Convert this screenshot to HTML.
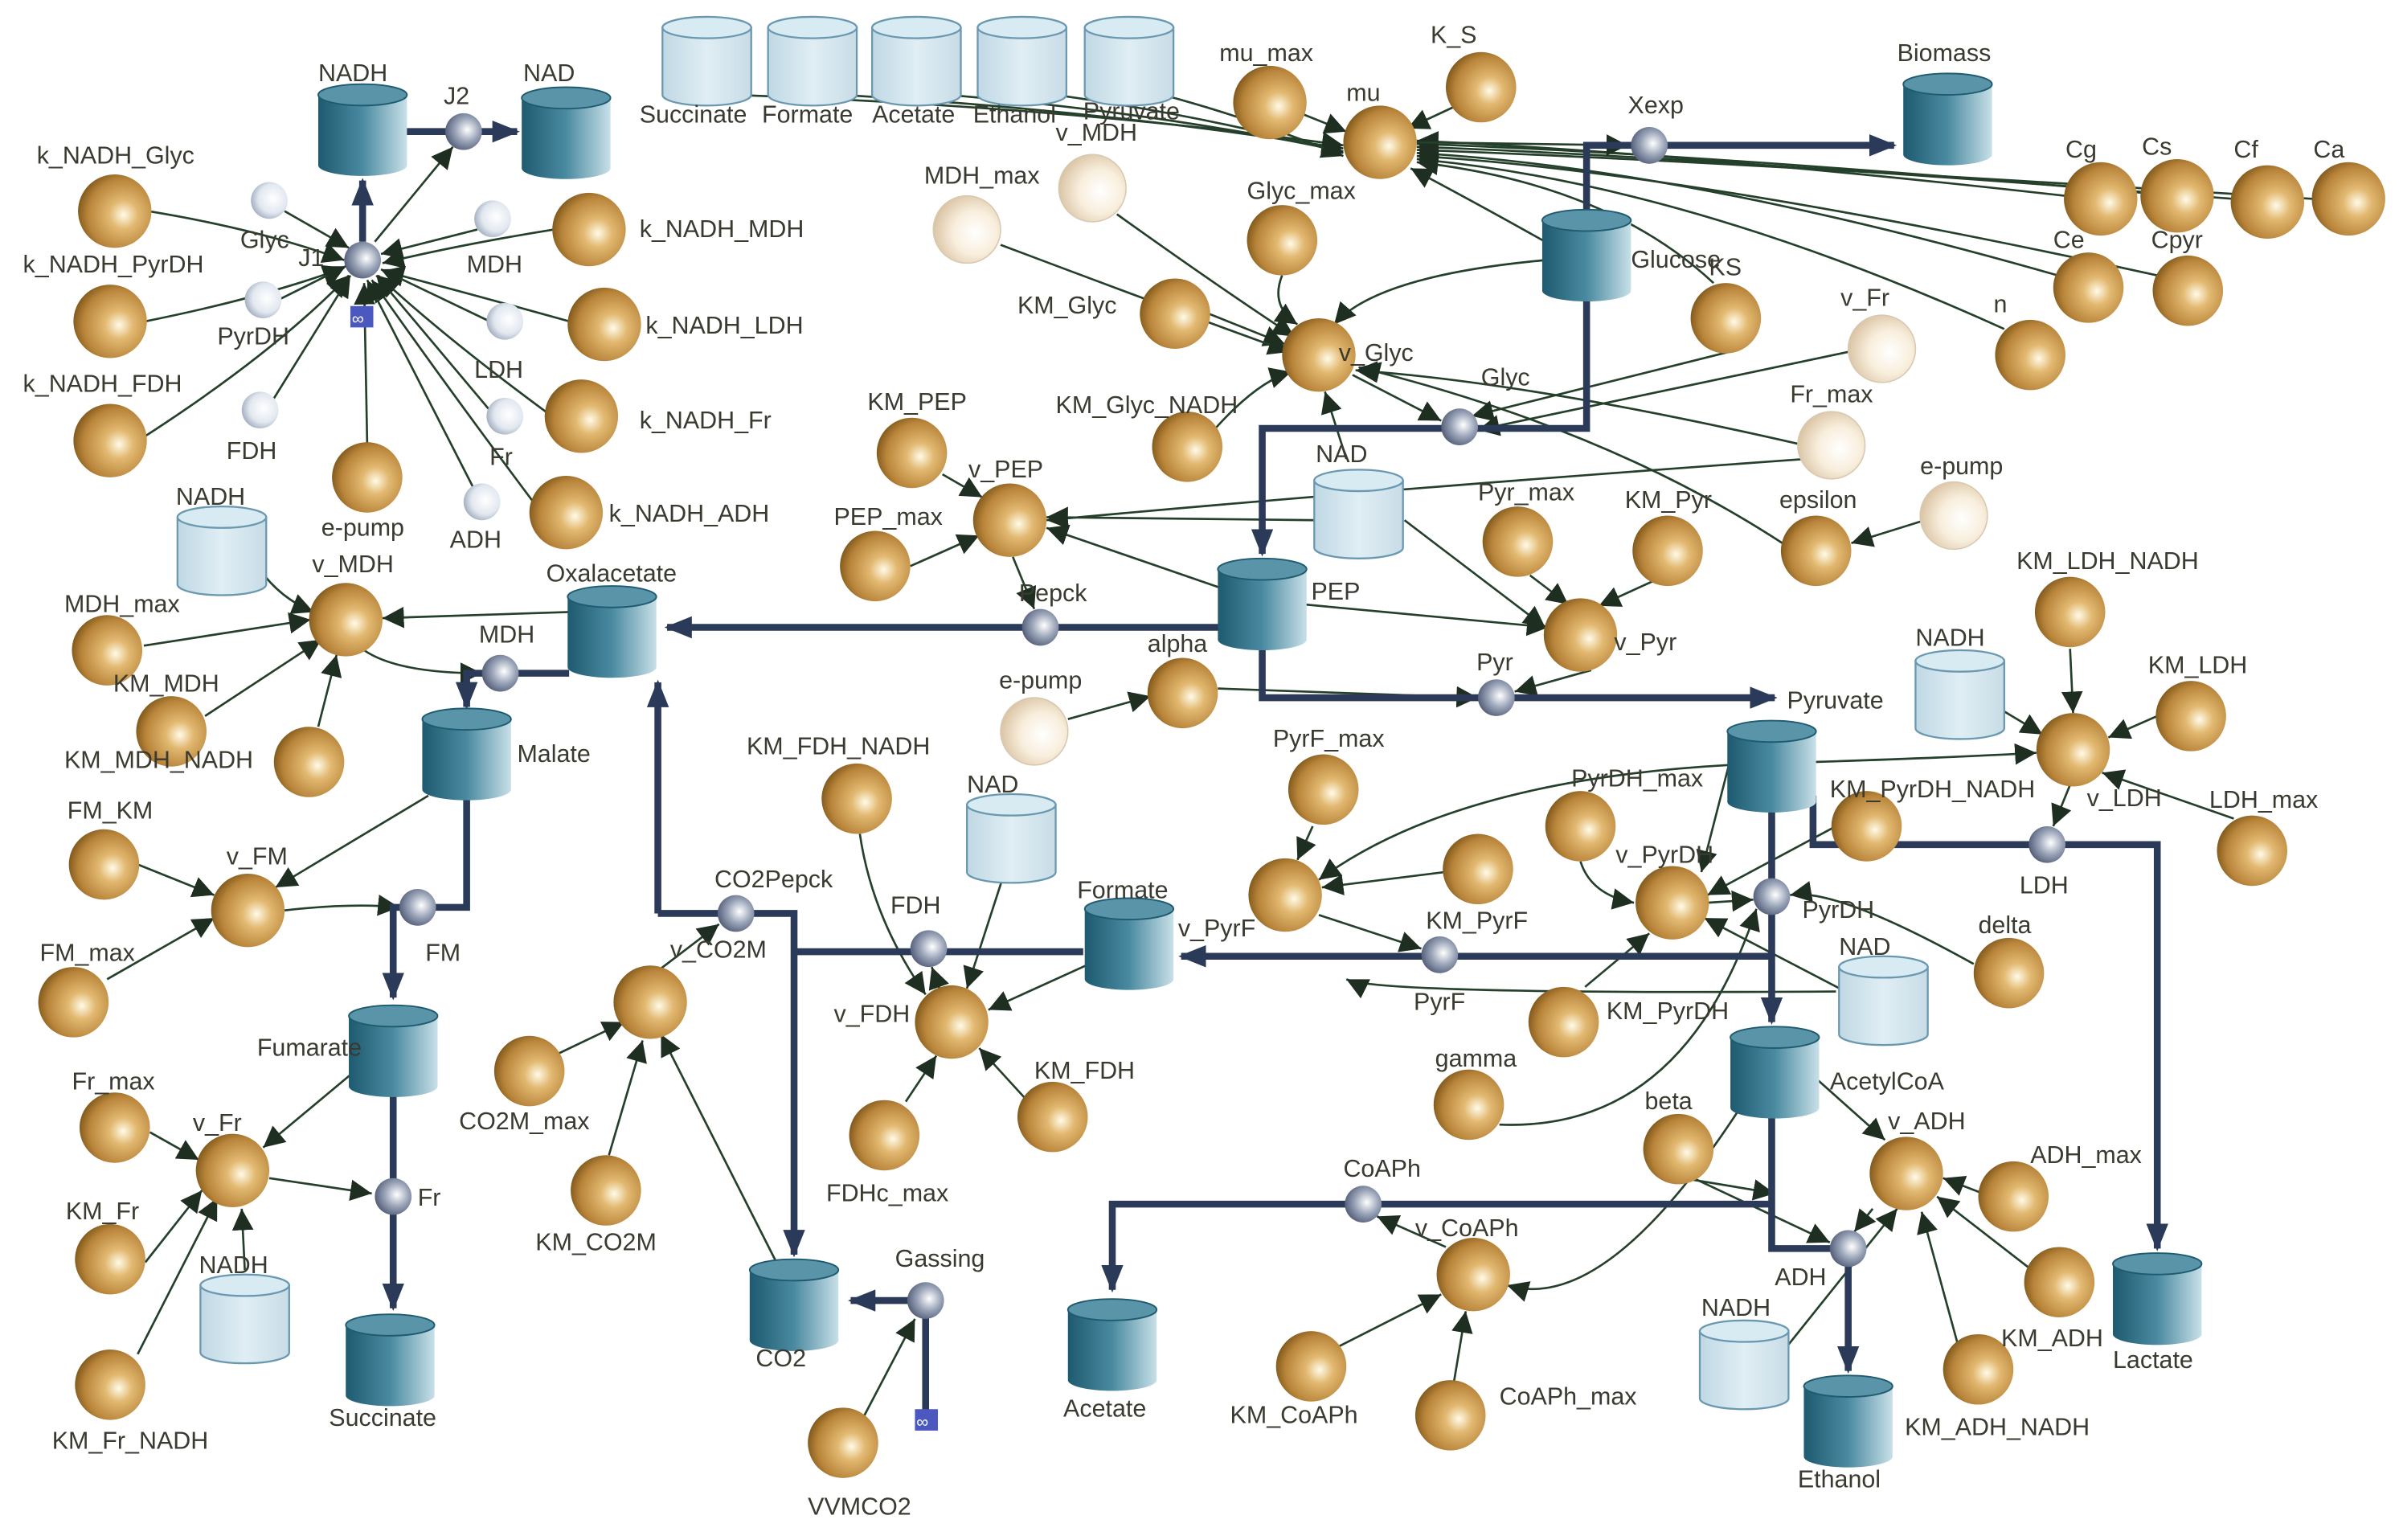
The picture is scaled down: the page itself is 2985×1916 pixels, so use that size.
<!DOCTYPE html>
<html><head><meta charset="utf-8"><style>
html,body{margin:0;padding:0;background:#fff}
svg{display:block}
text{font-family:"Liberation Sans",sans-serif;font-size:16px;fill:#3a3a30}
</style></head><body>
<svg width="2985" height="1916" viewBox="0 0 1568 1006.5" preserveAspectRatio="none" xmlns="http://www.w3.org/2000/svg">
<defs>
<radialGradient id="gold" cx="62%" cy="55%" r="65%"><stop offset="0" stop-color="#fffbe8"/><stop offset="0.3" stop-color="#e2b870"/><stop offset="0.75" stop-color="#b8843a"/><stop offset="1" stop-color="#7a5418"/></radialGradient>
<radialGradient id="cream" cx="62%" cy="55%" r="65%"><stop offset="0" stop-color="#ffffff"/><stop offset="0.5" stop-color="#f8eedc"/><stop offset="1" stop-color="#d8c0a0"/></radialGradient>
<radialGradient id="grey" cx="60%" cy="45%" r="65%"><stop offset="0" stop-color="#ffffff"/><stop offset="0.5" stop-color="#9aa4b8"/><stop offset="1" stop-color="#4a5470"/></radialGradient>
<radialGradient id="white" cx="60%" cy="45%" r="65%"><stop offset="0" stop-color="#ffffff"/><stop offset="0.6" stop-color="#e2e8f0"/><stop offset="1" stop-color="#98a4b8"/></radialGradient>
<linearGradient id="cdk" x1="0" x2="1"><stop offset="0" stop-color="#1e5a70"/><stop offset="0.5" stop-color="#4a8aa0"/><stop offset="1" stop-color="#c8e0e8"/></linearGradient>
<linearGradient id="clt" x1="0" x2="1"><stop offset="0" stop-color="#c0d8e4"/><stop offset="0.5" stop-color="#e0eef4"/><stop offset="1" stop-color="#c8dce6"/></linearGradient>
<g id="cD"><path d="M-29,0 v46 a29,7 0 0 0 58,0 v-46 z" fill="url(#cdk)"/><ellipse cx="0" cy="0" rx="29" ry="7" fill="#5a94a8" stroke="#1e5a70" stroke-width="1"/></g>
<g id="cL"><path d="M-29,0 v44 a29,7 0 0 0 58,0 v-44 z" fill="url(#clt)" stroke="#6a98b0" stroke-width="1.2"/><ellipse cx="0" cy="0" rx="29" ry="7" fill="#d8eaf2" stroke="#6a98b0" stroke-width="1.2"/></g>
<marker id="ta" viewBox="0 0 10 10" refX="10" refY="5" markerWidth="14" markerHeight="14" markerUnits="userSpaceOnUse" orient="auto"><path d="M0,0 L10,5 L0,10 z" fill="#1e2e20"/></marker>
<marker id="ba" viewBox="0 0 10 10" refX="9" refY="5" markerWidth="18" markerHeight="18" markerUnits="userSpaceOnUse" orient="auto"><path d="M0,1 L10,5 L0,9 z" fill="#2a3a58"/></marker>
</defs>

<!-- thin connectors -->
<g stroke="#24402a" stroke-width="1.4" fill="none" marker-end="url(#ta)">
<path d="M97,138 Q170,150 225,170"/>
<path d="M95,210 Q170,195 225,175"/>
<path d="M95,285 Q180,230 228,180"/>
<path d="M240,290 L238,185"/>
<path d="M362,150 Q300,160 250,172"/>
<path d="M372,210 Q300,190 250,177"/>
<path d="M358,270 Q290,220 247,180"/>
<path d="M350,330 Q290,250 243,183"/>
<path d="M186,138 L228,162"/>
<path d="M312,150 L249,166"/>
<path d="M182,196 L226,174"/>
<path d="M320,210 L249,176"/>
<path d="M178,262 L229,180"/>
<path d="M320,268 L246,180"/>
<path d="M309,318 L240,183"/>
<path d="M245,158 L296,96"/>
<path d="M480,62 Q700,70 878,95"/>
<path d="M550,62 Q720,72 878,97"/>
<path d="M620,62 Q760,74 878,99"/>
<path d="M690,62 Q790,76 878,100"/>
<path d="M760,62 Q820,78 878,102"/>
<path d="M850,74 L880,86"/>
<path d="M950,70 L920,84"/>
<path d="M1350,128 Q1100,100 926,92"/>
<path d="M1400,126 Q1100,100 926,94"/>
<path d="M1460,130 Q1100,102 926,96"/>
<path d="M1512,130 Q1100,104 926,98"/>
<path d="M1345,180 Q1100,110 926,100"/>
<path d="M1410,180 Q1100,112 926,102"/>
<path d="M1310,215 Q1100,120 926,104"/>
<path d="M1010,158 Q960,130 922,110"/>
<path d="M1120,185 Q1050,120 926,106"/>
<path d="M926,93 L1064,95"/>
<path d="M838,180 Q830,200 848,212"/>
<path d="M790,205 L840,225"/>
<path d="M790,285 Q820,250 844,243"/>
<path d="M730,140 Q800,190 846,220"/>
<path d="M654,160 Q760,200 843,230"/>
<path d="M1010,170 Q900,180 872,212"/>
<path d="M880,300 L866,256"/>
<path d="M884,245 L942,275"/>
<path d="M1208,230 L966,281"/>
<path d="M1175,290 Q1000,250 886,242"/>
<path d="M1165,355 Q1050,280 888,240"/>
<path d="M1130,230 L962,272"/>
<path d="M1258,340 L1210,355"/>
<path d="M616,310 L642,325"/>
<path d="M595,370 L640,350"/>
<path d="M1180,300 Q900,320 684,340"/>
<path d="M800,385 L684,345"/>
<path d="M862,340 L684,338"/>
<path d="M662,364 L676,398"/>
<path d="M1000,376 L1025,395"/>
<path d="M1080,380 L1045,396"/>
<path d="M852,395 L1012,410"/>
<path d="M1040,438 L990,452"/>
<path d="M698,470 L752,455"/>
<path d="M796,450 L966,456"/>
<path d="M918,340 L1010,410"/>
<path d="M165,365 Q180,390 205,400"/>
<path d="M94,422 L203,405"/>
<path d="M134,468 L210,418"/>
<path d="M208,475 L220,428"/>
<path d="M372,400 L250,404"/>
<path d="M238,425 Q260,440 315,440"/>
<path d="M1353,424 L1355,466"/>
<path d="M1410,468 L1378,482"/>
<path d="M1460,535 L1374,505"/>
<path d="M1310,465 L1335,480"/>
<path d="M1186,498 Q1280,495 1331,492"/>
<path d="M1353,513 L1342,540"/>
<path d="M90,565 L140,585"/>
<path d="M70,640 L140,600"/>
<path d="M280,520 L180,580"/>
<path d="M186,595 Q230,590 261,593"/>
<path d="M362,690 L408,668"/>
<path d="M398,755 L420,680"/>
<path d="M510,830 L432,676"/>
<path d="M432,633 L470,604"/>
<path d="M562,545 Q570,600 605,650"/>
<path d="M655,575 L632,646"/>
<path d="M712,630 L646,660"/>
<path d="M672,720 L640,685"/>
<path d="M592,720 L612,690"/>
<path d="M614,646 L609,632"/>
<path d="M858,540 L848,562"/>
<path d="M944,570 L864,580"/>
<path d="M1130,500 Q950,510 862,575"/>
<path d="M862,598 L929,620"/>
<path d="M1033,563 Q1040,585 1068,590"/>
<path d="M1200,540 L1116,585"/>
<path d="M1290,630 Q1200,580 1170,585"/>
<path d="M1210,650 L1114,600"/>
<path d="M1036,645 L1078,610"/>
<path d="M980,735 Q1100,740 1148,594"/>
<path d="M1130,500 L1112,570"/>
<path d="M1116,590 L1146,588"/>
<path d="M1200,648 Q900,650 880,640"/>
<path d="M1075,755 L1196,812"/>
<path d="M1186,704 L1232,745"/>
<path d="M1296,780 L1270,770"/>
<path d="M1328,830 L1266,782"/>
<path d="M1280,880 L1256,792"/>
<path d="M1168,880 L1240,790"/>
<path d="M1224,790 L1212,805"/>
<path d="M1140,720 Q1050,860 985,840"/>
<path d="M875,880 L942,846"/>
<path d="M950,905 L958,857"/>
<path d="M945,815 L900,795"/>
<path d="M1100,770 L1160,780"/>
<path d="M565,925 L598,862"/>
<path d="M90,885 L142,783"/>
<path d="M95,825 L132,778"/>
<path d="M98,740 L130,758"/>
<path d="M160,830 L158,790"/>
<path d="M232,700 L172,750"/>
<path d="M176,770 L243,780"/>
</g>

<!-- thick edges -->
<g stroke="#2a3a58" stroke-width="4.5" fill="none" stroke-linejoin="miter">
<path d="M265,86 H338" marker-end="url(#ba)"/>
<path d="M237,158 V118" marker-end="url(#ba)"/>
<path d="M1037,140 V95 H1238" marker-end="url(#ba)"/>
<path d="M1037,192 V280 H825 V362" marker-end="url(#ba)"/>
<path d="M797,410 H436" marker-end="url(#ba)"/>
<path d="M825,420 V456 H1160" marker-end="url(#ba)"/>
<path d="M372,440 H305 V462" marker-end="url(#ba)"/>
<path d="M305,520 V593 H257 V652" marker-end="url(#ba)"/>
<path d="M257,712 V855" marker-end="url(#ba)"/>
<path d="M430,597 V446" marker-end="url(#ba)"/>
<path d="M430,597 H519 V820" marker-end="url(#ba)"/>
<path d="M708,622 H519"/>
<path d="M605,850 H556" marker-end="url(#ba)"/>
<path d="M605,850 V922"/>
<path d="M1158,528 V668" marker-end="url(#ba)"/>
<path d="M1158,625 H772" marker-end="url(#ba)"/>
<path d="M1185,520 V552 H1410 V816" marker-end="url(#ba)"/>
<path d="M1158,730 V816 H1208 V896" marker-end="url(#ba)"/>
<path d="M1158,787 H727 V843" marker-end="url(#ba)"/>
</g>

<!-- cylinders -->
<use href="#cD" x="237" y="62"/><use href="#cD" x="370" y="64"/>
<use href="#cL" x="462" y="18"/><use href="#cL" x="531" y="18"/><use href="#cL" x="599" y="18"/><use href="#cL" x="668" y="18"/><use href="#cL" x="738" y="18"/>
<use href="#cD" x="1273" y="55"/><use href="#cD" x="1037" y="144"/>
<use href="#cL" x="888" y="314"/><use href="#cD" x="825" y="372"/><use href="#cD" x="400" y="390"/>
<use href="#cL" x="145" y="338"/><use href="#cD" x="305" y="470"/><use href="#cD" x="1158" y="478"/>
<use href="#cL" x="1281" y="432"/><use href="#cL" x="661" y="526"/><use href="#cD" x="738" y="594"/>
<use href="#cL" x="1231" y="632"/><use href="#cD" x="257" y="664"/><use href="#cD" x="1160" y="678"/>
<use href="#cL" x="160" y="840"/><use href="#cD" x="255" y="866"/><use href="#cD" x="519" y="830"/>
<use href="#cD" x="727" y="856"/><use href="#cL" x="1140" y="870"/><use href="#cD" x="1410" y="826"/><use href="#cD" x="1208" y="906"/>

<!-- gold spheres -->
<g fill="url(#gold)">
<circle cx="75" cy="138" r="24"/><circle cx="72" cy="210" r="24"/><circle cx="72" cy="288" r="24"/><circle cx="240" cy="312" r="23"/>
<circle cx="385" cy="150" r="24"/><circle cx="395" cy="212" r="24"/><circle cx="380" cy="272" r="24"/><circle cx="370" cy="335" r="24"/>
<circle cx="830" cy="67" r="24"/><circle cx="902" cy="93" r="24"/><circle cx="968" cy="57" r="23"/><circle cx="838" cy="157" r="23"/>
<circle cx="768" cy="205" r="23"/><circle cx="862" cy="232" r="24"/><circle cx="776" cy="292" r="23"/><circle cx="1128" cy="208" r="23"/>
<circle cx="1327" cy="232" r="23"/><circle cx="1373" cy="130" r="24"/><circle cx="1423" cy="128" r="24"/><circle cx="1482" cy="132" r="24"/>
<circle cx="1535" cy="130" r="24"/><circle cx="1365" cy="188" r="23"/><circle cx="1430" cy="190" r="23"/>
<circle cx="596" cy="296" r="23"/><circle cx="660" cy="340" r="24"/><circle cx="572" cy="370" r="23"/><circle cx="992" cy="354" r="23"/>
<circle cx="1090" cy="360" r="23"/><circle cx="1187" cy="360" r="23"/><circle cx="1033" cy="415" r="24"/><circle cx="773" cy="453" r="23"/>
<circle cx="226" cy="405" r="24"/><circle cx="70" cy="425" r="23"/><circle cx="112" cy="478" r="23"/><circle cx="202" cy="498" r="23"/>
<circle cx="1353" cy="400" r="23"/><circle cx="1432" cy="468" r="23"/><circle cx="1355" cy="490" r="24"/><circle cx="1472" cy="556" r="23"/>
<circle cx="560" cy="522" r="23"/><circle cx="865" cy="516" r="23"/><circle cx="840" cy="585" r="24"/><circle cx="966" cy="568" r="23"/>
<circle cx="1033" cy="540" r="23"/><circle cx="1220" cy="540" r="23"/><circle cx="1093" cy="590" r="24"/><circle cx="1313" cy="636" r="23"/>
<circle cx="1022" cy="668" r="23"/><circle cx="960" cy="722" r="23"/>
<circle cx="68" cy="565" r="23"/><circle cx="162" cy="595" r="24"/><circle cx="48" cy="655" r="23"/>
<circle cx="425" cy="655" r="24"/><circle cx="346" cy="700" r="23"/><circle cx="396" cy="778" r="23"/>
<circle cx="622" cy="668" r="24"/><circle cx="688" cy="730" r="23"/><circle cx="578" cy="742" r="23"/>
<circle cx="75" cy="737" r="23"/><circle cx="152" cy="765" r="24"/><circle cx="72" cy="823" r="23"/><circle cx="72" cy="905" r="23"/>
<circle cx="1097" cy="751" r="23"/><circle cx="963" cy="833" r="24"/><circle cx="857" cy="893" r="23"/><circle cx="948" cy="925" r="23"/>
<circle cx="1246" cy="767" r="24"/><circle cx="1316" cy="782" r="23"/><circle cx="1346" cy="838" r="23"/><circle cx="1293" cy="895" r="23"/>
<circle cx="551" cy="943" r="23"/>
</g>
<g fill="url(#cream)" stroke="#d8c8b0" stroke-width="0.8">
<circle cx="714" cy="123" r="22"/><circle cx="632" cy="150" r="22"/><circle cx="1230" cy="228" r="22"/><circle cx="1197" cy="291" r="22"/><circle cx="1277" cy="337" r="22"/><circle cx="676" cy="478" r="22"/>
</g>
<g fill="url(#white)">
<circle cx="176" cy="131" r="12"/><circle cx="322" cy="143" r="12"/><circle cx="172" cy="196" r="12"/><circle cx="330" cy="210" r="12"/><circle cx="170" cy="268" r="12"/><circle cx="330" cy="272" r="12"/><circle cx="315" cy="328" r="12"/>
</g>
<g fill="url(#grey)">
<circle cx="303" cy="86" r="12"/><circle cx="237" cy="170" r="12"/><circle cx="1078" cy="95" r="12"/><circle cx="954" cy="279" r="12"/>
<circle cx="680" cy="410" r="12"/><circle cx="327" cy="440" r="12"/><circle cx="978" cy="456" r="12"/><circle cx="1338" cy="552" r="12"/>
<circle cx="1158" cy="586" r="12"/><circle cx="273" cy="593" r="12"/><circle cx="481" cy="597" r="12"/><circle cx="607" cy="620" r="12"/>
<circle cx="941" cy="624" r="12"/><circle cx="257" cy="782" r="12"/><circle cx="891" cy="787" r="12"/><circle cx="1208" cy="816" r="12"/><circle cx="605" cy="850" r="12"/>
</g>
<rect x="229" y="200" width="15" height="14" fill="#4a58c0"/><text x="230" y="212" style="font-size:11px;fill:#fff">∞</text>
<rect x="598" y="921" width="15" height="14" fill="#4a58c0"/><text x="599" y="933" style="font-size:11px;fill:#fff">∞</text>

<!-- labels -->
<text x="208" y="53">NADH</text><text x="290" y="68">J2</text><text x="342" y="53">NAD</text>
<text x="24" y="107">k_NADH_Glyc</text><text x="157" y="162">Glyc</text><text x="195" y="174">J1</text><text x="305" y="178">MDH</text>
<text x="418" y="155">k_NADH_MDH</text><text x="15" y="178">k_NADH_PyrDH</text><text x="142" y="225">PyrDH</text><text x="422" y="218">k_NADH_LDH</text>
<text x="310" y="247">LDH</text><text x="15" y="256">k_NADH_FDH</text><text x="418" y="280">k_NADH_Fr</text><text x="148" y="300">FDH</text><text x="320" y="304">Fr</text>
<text x="210" y="350">e-pump</text><text x="294" y="358">ADH</text><text x="398" y="341">k_NADH_ADH</text>
<text x="418" y="80">Succinate</text><text x="498" y="80">Formate</text><text x="570" y="80">Acetate</text><text x="636" y="80">Ethanol</text><text x="708" y="78">Pyruvate</text>
<text x="797" y="40">mu_max</text><text x="935" y="28">K_S</text><text x="880" y="66">mu</text><text x="690" y="92">v_MDH</text><text x="604" y="120">MDH_max</text>
<text x="1064" y="74">Xexp</text><text x="1240" y="40">Biomass</text><text x="815" y="130">Glyc_max</text><text x="1066" y="175">Glucose</text><text x="1117" y="180">KS</text>
<text x="1350" y="103">Cg</text><text x="1400" y="101">Cs</text><text x="1460" y="103">Cf</text><text x="1512" y="103">Ca</text><text x="1342" y="162">Ce</text><text x="1406" y="162">Cpyr</text><text x="1303" y="204">n</text>
<text x="1203" y="200">v_Fr</text><text x="665" y="205">KM_Glyc</text><text x="875" y="236">v_Glyc</text><text x="968" y="252">Glyc</text><text x="690" y="270">KM_Glyc_NADH</text>
<text x="567" y="268">KM_PEP</text><text x="1170" y="263">Fr_max</text><text x="860" y="302">NAD</text><text x="633" y="312">v_PEP</text><text x="1255" y="310">e-pump</text>
<text x="545" y="343">PEP_max</text><text x="966" y="327">Pyr_max</text><text x="1062" y="332">KM_Pyr</text><text x="1163" y="332">epsilon</text>
<text x="357" y="380">Oxalacetate</text><text x="115" y="330">NADH</text><text x="204" y="374">v_MDH</text><text x="666" y="393">Pepck</text><text x="857" y="392">PEP</text>
<text x="313" y="420">MDH</text><text x="42" y="400">MDH_max</text><text x="1055" y="425">v_Pyr</text><text x="750" y="426">alpha</text><text x="653" y="450">e-pump</text>
<text x="74" y="452">KM_MDH</text><text x="965" y="438">Pyr</text><text x="1168" y="463">Pyruvate</text><text x="1318" y="372">KM_LDH_NADH</text><text x="1252" y="422">NADH</text>
<text x="1404" y="440">KM_LDH</text><text x="42" y="502">KM_MDH_NADH</text><text x="338" y="498">Malate</text><text x="488" y="493">KM_FDH_NADH</text><text x="832" y="488">PyrF_max</text>
<text x="1364" y="527">v_LDH</text><text x="1444" y="528">LDH_max</text><text x="1027" y="514">PyrDH_max</text><text x="1196" y="521">KM_PyrDH_NADH</text><text x="632" y="518">NAD</text>
<text x="44" y="535">FM_KM</text><text x="148" y="565">v_FM</text><text x="467" y="580">CO2Pepck</text><text x="582" y="597">FDH</text><text x="704" y="587">Formate</text>
<text x="1056" y="564">v_PyrDH</text><text x="1320" y="584">LDH</text><text x="1178" y="600">PyrDH</text><text x="1293" y="610">delta</text><text x="770" y="612">v_PyrF</text>
<text x="932" y="607">KM_PyrF</text><text x="26" y="628">FM_max</text><text x="278" y="628">FM</text><text x="438" y="626">v_CO2M</text><text x="1202" y="624">NAD</text>
<text x="545" y="668">v_FDH</text><text x="924" y="660">PyrF</text><text x="1050" y="666">KM_PyrDH</text><text x="168" y="690">Fumarate</text><text x="676" y="705">KM_FDH</text>
<text x="938" y="697">gamma</text><text x="1196" y="712">AcetylCoA</text><text x="47" y="712">Fr_max</text><text x="126" y="739">v_Fr</text><text x="300" y="738">CO2M_max</text>
<text x="1075" y="725">beta</text><text x="1234" y="738">v_ADH</text><text x="1327" y="760">ADH_max</text><text x="878" y="769">CoAPh</text><text x="273" y="788">Fr</text>
<text x="540" y="785">FDHc_max</text><text x="43" y="797">KM_Fr</text><text x="925" y="808">v_CoAPh</text><text x="350" y="817">KM_CO2M</text><text x="585" y="828">Gassing</text>
<text x="1308" y="880">KM_ADH</text><text x="130" y="832">NADH</text><text x="1160" y="840">ADH</text><text x="1112" y="860">NADH</text><text x="494" y="893">CO2</text>
<text x="1381" y="894">Lactate</text><text x="34" y="947">KM_Fr_NADH</text><text x="215" y="932">Succinate</text><text x="695" y="926">Acetate</text>
<text x="804" y="930">KM_CoAPh</text><text x="980" y="918">CoAPh_max</text><text x="1245" y="938">KM_ADH_NADH</text><text x="528" y="990">VVMCO2</text><text x="1175" y="972">Ethanol</text>
</svg>
</body></html>
